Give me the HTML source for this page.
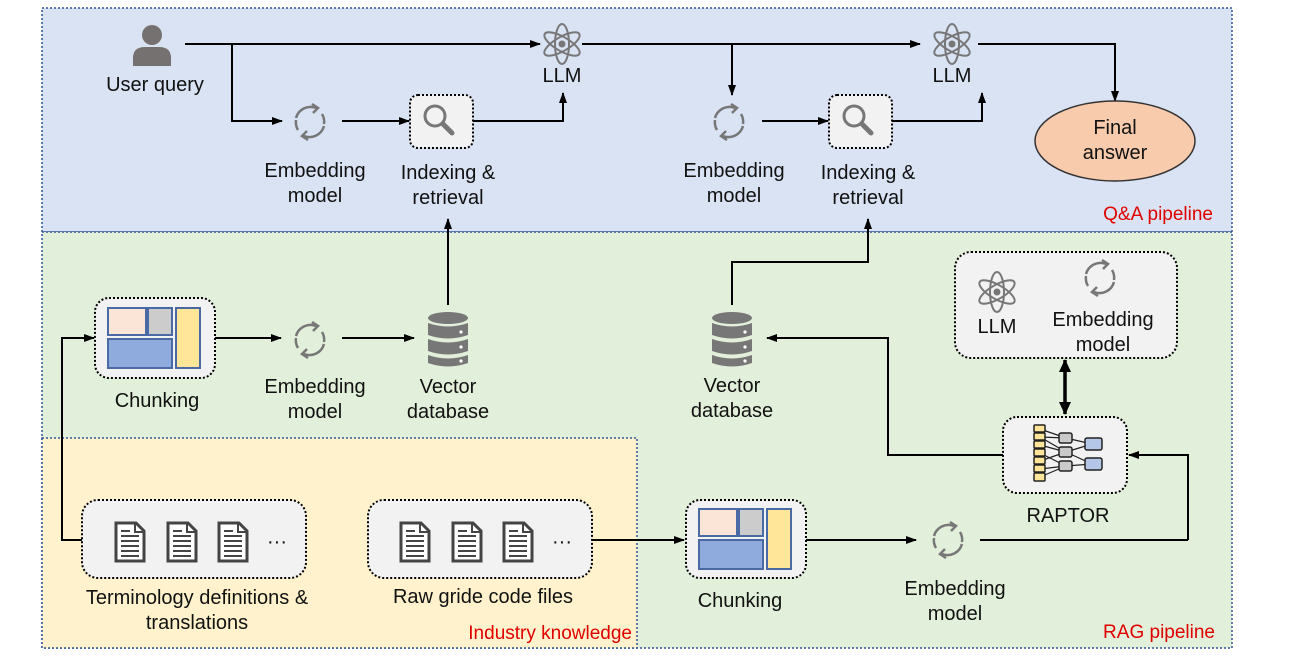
<!DOCTYPE html>
<html><head><meta charset="utf-8"><style>
html,body{margin:0;padding:0;background:#fff;width:1292px;height:660px;overflow:hidden}
text{font-family:"Liberation Sans",Arial,sans-serif;font-size:20px;fill:#111}
.r{fill:#e00000;font-size:19px}
</style></head><body>
<svg width="1292" height="660" viewBox="0 0 1292 660" xmlns="http://www.w3.org/2000/svg">
<defs>
<marker id="a" markerWidth="11" markerHeight="10" refX="10" refY="5" orient="auto" markerUnits="userSpaceOnUse"><path d="M0,1 L11,5 L0,9 z" fill="#000"/></marker>
<marker id="b" markerWidth="14" markerHeight="14" refX="12" refY="7" orient="auto-start-reverse" markerUnits="userSpaceOnUse"><path d="M0,1 L13,7 L0,13 z" fill="#000"/></marker>
<g id="emb" fill="none" stroke="#777" stroke-width="2.5">
<path d="M-14,-4 A15,15 0 0 1 6,-14"/><path d="M14,4 A15,15 0 0 1 -6,14"/>
<path d="M-12,8 A15,15 0 0 1 -14,-2" /><path d="M12,-8 A15,15 0 0 1 14,2"/>
<path d="M2,-18 L8,-14 L3,-9" /><path d="M-2,18 L-8,14 L-3,9"/>
</g>
<g id="atom" fill="none" stroke="#777" stroke-width="2">
<ellipse rx="20" ry="7" transform="rotate(90)"/><ellipse rx="20" ry="7" transform="rotate(30)"/><ellipse rx="20" ry="7" transform="rotate(-30)"/><circle r="3.5" fill="#777" stroke="none"/>
</g>
<g id="db" fill="#777">
<ellipse cx="0" cy="-20" rx="20" ry="6"/>
<path d="M-20,-15 Q0,-8 20,-15 V-3 Q0,4 -20,-3 z"/>
<path d="M-20,1 Q0,8 20,1 V13 Q0,20 -20,13 z"/>
<path d="M-20,17 Q0,24 20,17 V25 Q0,32 -20,25 z"/>
<circle cx="13" cy="-6" r="1.6" fill="#fff"/><circle cx="13" cy="9" r="1.6" fill="#fff"/><circle cx="13" cy="23" r="1.6" fill="#fff"/>
</g>
<g id="doc">
<path d="M-14,-19 H6 L14,-11 V19 H-14 z" fill="#fff" stroke="#444" stroke-width="3"/>
<path d="M5,-19 V-10 H14" fill="none" stroke="#444" stroke-width="2"/>
<path d="M-9,-6 H9 M-9,-1 H9 M-9,4 H9 M-9,9 H9 M-9,14 H9" stroke="#444" stroke-width="2"/>
<path d="M-9,-11 H0" stroke="#444" stroke-width="2"/>
</g>
<g id="chunk">
<rect x="-47" y="-30" width="38" height="27" fill="#fbe5d6" stroke="#4a6aa5" stroke-width="2"/>
<rect x="-7" y="-30" width="24" height="27" fill="#ccc" stroke="#4a6aa5" stroke-width="2"/>
<rect x="-47" y="1" width="64" height="29" fill="#8faadc" stroke="#4a6aa5" stroke-width="2"/>
<rect x="21" y="-30" width="24" height="60" fill="#ffe699" stroke="#4a6aa5" stroke-width="2"/>
</g>
<g id="search" fill="none" stroke="#777" stroke-width="3"><circle cx="-4" cy="-4" r="10"/><path d="M4,4 L13,13" stroke-width="5" stroke-linecap="round"/></g>
</defs>

<rect x="42" y="8" width="1190" height="224" fill="#dae3f3" stroke="#2f5597" stroke-width="1.5" stroke-dasharray="2,2"/>
<rect x="42" y="232" width="1190" height="416" fill="#e2efda" stroke="#2f5597" stroke-width="1.5" stroke-dasharray="2,2"/>
<rect x="42" y="438" width="595" height="210" fill="#fff2cc" stroke="#2f5597" stroke-width="1.5" stroke-dasharray="2,2"/>

<g stroke="#000" stroke-width="2" fill="none">
<path d="M185,44 H540" marker-end="url(#a)"/>
<path d="M232,44 V121 H282" marker-end="url(#a)"/>
<path d="M342,121 H409" marker-end="url(#a)"/>
<path d="M473,121 H563 V93" marker-end="url(#a)"/>
<path d="M582,44 H920" marker-end="url(#a)"/>
<path d="M732,44 V95" marker-end="url(#a)"/>
<path d="M762,121 H828" marker-end="url(#a)"/>
<path d="M892,121 H982 V93" marker-end="url(#a)"/>
<path d="M978,44 H1115 V101" marker-end="url(#a)"/>
<path d="M215,338 H281" marker-end="url(#a)"/>
<path d="M342,338 H414" marker-end="url(#a)"/>
<path d="M448,305 V219" marker-end="url(#a)"/>
<path d="M732,305 V262 H868 V219" marker-end="url(#a)"/>
<path d="M1003,455 H888 V338 H767" marker-end="url(#a)"/>
<path d="M1188,540 H1188 V455 H1129" marker-end="url(#a)"/>
<path d="M980,540 H1188"/>
<path d="M806,540 H916" marker-end="url(#a)"/>
<path d="M592,540 H684" marker-end="url(#a)"/>
<path d="M82,540 H62 V338 H94" marker-end="url(#a)"/>
<path d="M1065,360 V414" stroke-width="3.5" marker-start="url(#b)" marker-end="url(#b)"/>
</g>

<circle cx="152" cy="35" r="10" fill="#767171"/>
<path d="M133,66 V58 Q133,47 145,47 H159 Q171,47 171,58 V66 z" fill="#767171"/>
<text x="155" y="91" text-anchor="middle">User query</text>

<use href="#emb" x="310" y="122"/>
<text x="315" y="177" text-anchor="middle">Embedding</text><text x="315" y="202" text-anchor="middle">model</text>
<rect x="410" y="95" width="63" height="53" rx="8" fill="#f2f2f2" stroke="#000" stroke-width="2" stroke-dasharray="2,2"/>
<use href="#search" x="439" y="120"/>
<text x="448" y="179" text-anchor="middle">Indexing &amp;</text><text x="448" y="204" text-anchor="middle">retrieval</text>
<use href="#atom" x="562" y="44"/><text x="562" y="82" text-anchor="middle">LLM</text>

<use href="#emb" x="729" y="122"/>
<text x="734" y="177" text-anchor="middle">Embedding</text><text x="734" y="202" text-anchor="middle">model</text>
<rect x="829" y="95" width="63" height="53" rx="8" fill="#f2f2f2" stroke="#000" stroke-width="2" stroke-dasharray="2,2"/>
<use href="#search" x="858" y="120"/>
<text x="868" y="179" text-anchor="middle">Indexing &amp;</text><text x="868" y="204" text-anchor="middle">retrieval</text>
<use href="#atom" x="952" y="44"/><text x="952" y="82" text-anchor="middle">LLM</text>

<ellipse cx="1115" cy="141" rx="80" ry="40" fill="#f8cbad" stroke="#333" stroke-width="1.5"/>
<text x="1115" y="134" text-anchor="middle">Final</text><text x="1115" y="159" text-anchor="middle">answer</text>
<text x="1213" y="220" text-anchor="end" class="r">Q&amp;A pipeline</text>

<rect x="95" y="298" width="120" height="80" rx="14" fill="#f2f2f2" stroke="#000" stroke-width="2" stroke-dasharray="2,2"/>
<use href="#chunk" x="155" y="338"/>
<text x="157" y="407" text-anchor="middle">Chunking</text>
<use href="#emb" x="310" y="340"/>
<text x="315" y="393" text-anchor="middle">Embedding</text><text x="315" y="418" text-anchor="middle">model</text>
<use href="#db" x="448" y="338"/>
<text x="448" y="393" text-anchor="middle">Vector</text><text x="448" y="418" text-anchor="middle">database</text>

<use href="#db" x="732" y="338"/>
<text x="732" y="392" text-anchor="middle">Vector</text><text x="732" y="417" text-anchor="middle">database</text>

<rect x="955" y="252" width="222" height="106" rx="16" fill="#f2f2f2" stroke="#000" stroke-width="2" stroke-dasharray="2,2"/>
<use href="#atom" x="997" y="292"/><text x="997" y="333" text-anchor="middle">LLM</text>
<use href="#emb" x="1100" y="278"/>
<text x="1103" y="326" text-anchor="middle">Embedding</text><text x="1103" y="351" text-anchor="middle">model</text>

<rect x="1003" y="417" width="124" height="76" rx="14" fill="#f2f2f2" stroke="#000" stroke-width="2" stroke-dasharray="2,2"/>
<g stroke="#222" stroke-width="1.2">
<path d="M1040,429 L1066,438 M1040,437 L1066,438 M1040,445 L1066,452 M1040,453 L1066,466 M1040,461 L1066,452 M1040,469 L1066,466 M1040,477 L1066,466 M1040,437 L1066,452 M1066,438 L1092,444 M1066,452 L1092,444 M1066,452 L1092,464 M1066,466 L1092,464"/>
</g>
<g fill="#ffe699" stroke="#222" stroke-width="1.5">
<rect x="1034" y="425" width="11" height="7" rx="1"/><rect x="1034" y="433" width="11" height="7" rx="1"/><rect x="1034" y="441" width="11" height="7" rx="1"/><rect x="1034" y="449" width="11" height="7" rx="1"/><rect x="1034" y="457" width="11" height="7" rx="1"/><rect x="1034" y="465" width="11" height="7" rx="1"/><rect x="1034" y="473" width="11" height="8" rx="1"/>
</g>
<g fill="#c9c9c9" stroke="#222" stroke-width="1.5"><rect x="1059" y="433" width="13" height="10" rx="2"/><rect x="1059" y="447" width="13" height="10" rx="2"/><rect x="1059" y="461" width="13" height="10" rx="2"/></g>
<g fill="#b4c7e7" stroke="#222" stroke-width="1.5"><rect x="1085" y="438" width="17" height="12" rx="2"/><rect x="1085" y="458" width="17" height="12" rx="2"/></g>
<text x="1068" y="522" text-anchor="middle">RAPTOR</text>

<rect x="686" y="500" width="120" height="78" rx="14" fill="#f2f2f2" stroke="#000" stroke-width="2" stroke-dasharray="2,2"/>
<use href="#chunk" x="746" y="539"/>
<text x="740" y="607" text-anchor="middle">Chunking</text>
<use href="#emb" x="948" y="540"/>
<text x="955" y="595" text-anchor="middle">Embedding</text><text x="955" y="620" text-anchor="middle">model</text>

<rect x="82" y="500" width="224" height="78" rx="16" fill="#f2f2f2" stroke="#000" stroke-width="2" stroke-dasharray="2,2"/>
<use href="#doc" x="130" y="542"/><use href="#doc" x="182" y="542"/><use href="#doc" x="233" y="542"/>
<text x="277" y="548" text-anchor="middle">···</text>
<text x="197" y="604" text-anchor="middle">Terminology definitions &amp;</text>
<text x="197" y="629" text-anchor="middle">translations</text>

<rect x="368" y="500" width="224" height="78" rx="16" fill="#f2f2f2" stroke="#000" stroke-width="2" stroke-dasharray="2,2"/>
<use href="#doc" x="415" y="542"/><use href="#doc" x="467" y="542"/><use href="#doc" x="518" y="542"/>
<text x="562" y="548" text-anchor="middle">···</text>
<text x="483" y="603" text-anchor="middle">Raw gride code files</text>

<text x="632" y="639" text-anchor="end" class="r">Industry knowledge</text>
<text x="1215" y="638" text-anchor="end" class="r">RAG pipeline</text>
</svg>
</body></html>
